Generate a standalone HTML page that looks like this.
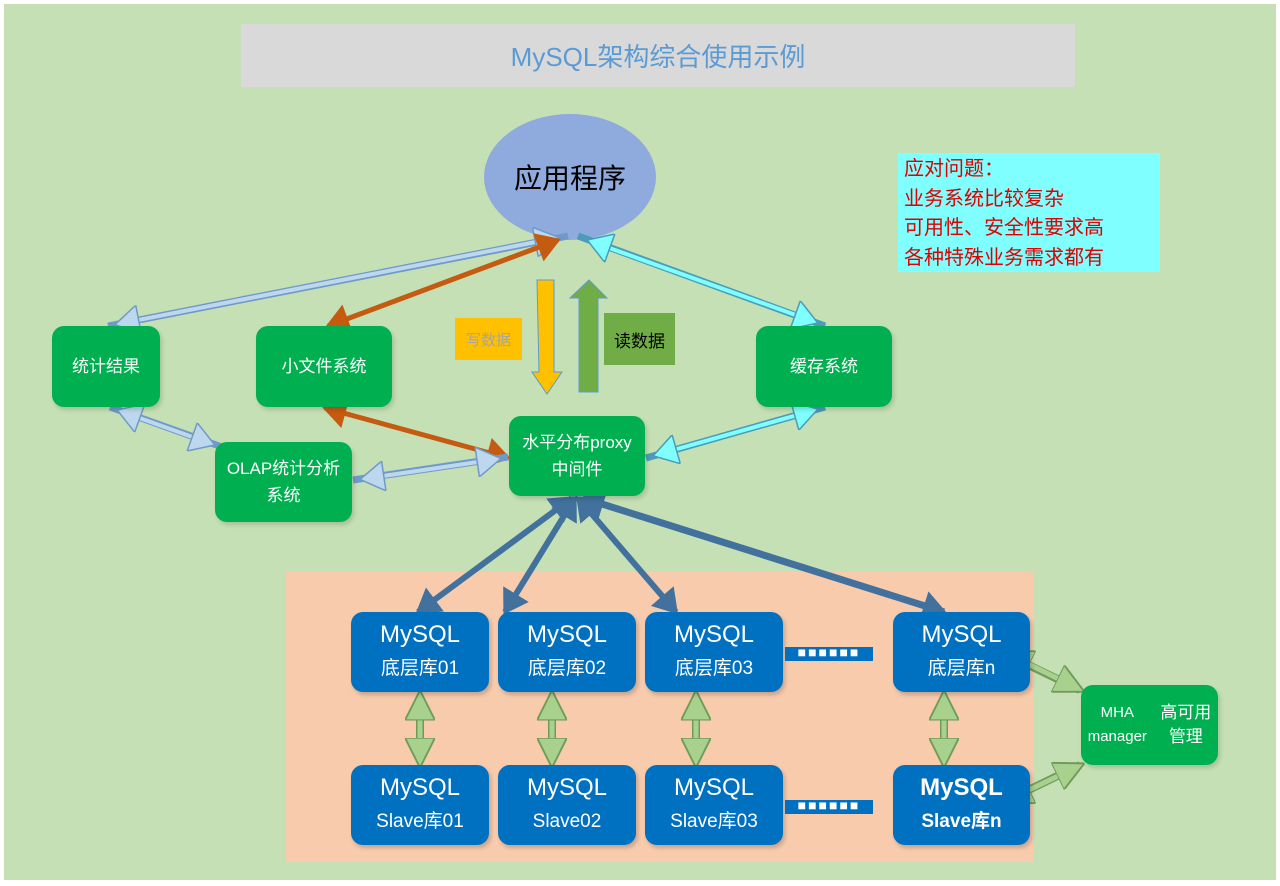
<!DOCTYPE html>
<html><head><meta charset="utf-8"><style>
body{margin:0;width:1280px;height:886px;background:#fff;position:relative;overflow:hidden;font-family:"Liberation Sans","Noto Sans CJK SC",sans-serif}
.a{position:absolute;box-sizing:border-box}
.g{background:#00b050;color:#fff;border-radius:12px;display:flex;align-items:center;justify-content:center;text-align:center;font-size:17px;line-height:27px;box-shadow:2px 3px 4px rgba(0,0,0,.15)}
.b{background:#0070c0;color:#fff;border-radius:12px;display:flex;flex-direction:column;align-items:center;justify-content:center;text-align:center;font-size:19px;line-height:34px;box-shadow:2px 3px 4px rgba(0,0,0,.2)}
.b .t{font-size:24px}
</style></head><body>
<div class="a" style="left:4px;top:4px;width:1272px;height:876px;background:#c5e0b4"></div>
<div class="a" style="left:241px;top:24px;width:834px;height:63px;background:#d9d9d9;color:#5b9bd5;font-size:26px;display:flex;align-items:center;justify-content:center">MySQL架构综合使用示例</div>
<div class="a" style="left:484px;top:114px;width:172px;height:126px;border-radius:50%;background:#8faadc;display:flex;align-items:center;justify-content:center;font-size:28px;color:#000">应用程序</div>
<div class="a" style="left:898px;top:153px;width:262px;height:119px;background:#7fffff;color:#e00000;font-size:20px;line-height:29.5px;padding:2px 0 0 6px">应对问题：<br>业务系统比较复杂<br>可用性、安全性要求高<br>各种特殊业务需求都有</div>
<div class="a" style="left:286px;top:572px;width:748px;height:290px;background:#f8cbad"></div>
<div class="a" style="left:455px;top:318px;width:67px;height:42px;background:#ffc000;color:#a5a5a5;font-size:15px;display:flex;align-items:center;justify-content:center">写数据</div>
<div class="a" style="left:604px;top:313px;width:71px;height:52px;background:#70ad47;color:#000;font-size:17px;display:flex;align-items:center;justify-content:center">读数据</div>
<svg class="a" style="left:0;top:0" width="1280" height="886">
<defs>
<marker id="m1" markerUnits="userSpaceOnUse" markerWidth="30" markerHeight="30" refX="14" refY="10" viewBox="0 0 16 20" orient="auto-start-reverse"><path d="M0,0 L16,10 L0,20 Z" fill="#bdd7ee" stroke="#6f9ac8"/></marker>
<marker id="m2" markerUnits="userSpaceOnUse" markerWidth="30" markerHeight="30" refX="14" refY="10" viewBox="0 0 16 20" orient="auto-start-reverse"><path d="M0,0 L16,10 L0,20 Z" fill="#c55a11"/></marker>
<marker id="m3" markerUnits="userSpaceOnUse" markerWidth="30" markerHeight="30" refX="14" refY="10" viewBox="0 0 16 20" orient="auto-start-reverse"><path d="M0,0 L16,10 L0,20 Z" fill="#7fffff" stroke="#4a9cb8"/></marker>
<marker id="m4" markerUnits="userSpaceOnUse" markerWidth="30" markerHeight="30" refX="14" refY="10" viewBox="0 0 16 20" orient="auto-start-reverse"><path d="M0,0 L16,10 L0,20 Z" fill="#41719c"/></marker>
<marker id="m5" markerUnits="userSpaceOnUse" markerWidth="30" markerHeight="30" refX="14" refY="8" viewBox="0 0 16 16" orient="auto-start-reverse"><path d="M0,0 L16,8 L0,16 Z" fill="#a9d18e" stroke="#6f9a5a"/></marker>
</defs>
<g stroke-width="6" fill="none">
<line x1="568" y1="236" x2="108" y2="326" stroke="#6f9ac8" stroke-width="7"/><line x1="556" y1="238" x2="118" y2="324" stroke="#bdd7ee" stroke-width="4" marker-start="url(#m1)" marker-end="url(#m1)"/>
<line x1="558" y1="240" x2="328" y2="326" stroke="#c55a11" stroke-width="5" marker-start="url(#m2)" marker-end="url(#m2)"/>
<line x1="578" y1="236" x2="825" y2="326" stroke="#4a9cb8" stroke-width="7"/><line x1="590" y1="241" x2="815" y2="322" stroke="#7fffff" stroke-width="4" marker-start="url(#m3)" marker-end="url(#m3)"/>
<line x1="110" y1="407" x2="222" y2="447" stroke="#6f9ac8" stroke-width="7"/><line x1="120" y1="411" x2="212" y2="444" stroke="#bdd7ee" stroke-width="4" marker-start="url(#m1)" marker-end="url(#m1)"/>
<line x1="325" y1="408" x2="508" y2="458" stroke="#c55a11" stroke-width="5" marker-start="url(#m2)" marker-end="url(#m2)"/>
<line x1="353" y1="480" x2="508" y2="457" stroke="#6f9ac8" stroke-width="7"/><line x1="363" y1="479" x2="498" y2="459" stroke="#bdd7ee" stroke-width="4" marker-start="url(#m1)" marker-end="url(#m1)"/>
<line x1="825" y1="407" x2="646" y2="458" stroke="#4a9cb8" stroke-width="7"/><line x1="815" y1="410" x2="656" y2="455" stroke="#7fffff" stroke-width="4" marker-start="url(#m3)" marker-end="url(#m3)"/>
<line x1="572" y1="498" x2="418" y2="612" stroke="#41719c" marker-start="url(#m4)" marker-end="url(#m4)"/>
<line x1="575" y1="498" x2="505" y2="612" stroke="#41719c" marker-start="url(#m4)" marker-end="url(#m4)"/>
<line x1="578" y1="498" x2="676" y2="612" stroke="#41719c" marker-start="url(#m4)" marker-end="url(#m4)"/>
<line x1="583" y1="498" x2="944" y2="612" stroke="#41719c" stroke-width="7" marker-start="url(#m4)" marker-end="url(#m4)"/>
<g stroke="#6f9a5a" stroke-width="8"><line x1="420" y1="696" x2="420" y2="762"/><line x1="552" y1="696" x2="552" y2="762"/><line x1="696" y1="696" x2="696" y2="762"/><line x1="944" y1="696" x2="944" y2="762"/><line x1="1008" y1="655" x2="1080" y2="690"/><line x1="1008" y1="800" x2="1080" y2="765"/></g>
<g stroke="#a9d18e" stroke-width="5"><line x1="420" y1="694" x2="420" y2="764" marker-start="url(#m5)" marker-end="url(#m5)"/><line x1="552" y1="694" x2="552" y2="764" marker-start="url(#m5)" marker-end="url(#m5)"/><line x1="696" y1="694" x2="696" y2="764" marker-start="url(#m5)" marker-end="url(#m5)"/><line x1="944" y1="694" x2="944" y2="764" marker-start="url(#m5)" marker-end="url(#m5)"/><line x1="1006" y1="653" x2="1081" y2="690" marker-start="url(#m5)" marker-end="url(#m5)"/><line x1="1006" y1="801" x2="1081" y2="765" marker-start="url(#m5)" marker-end="url(#m5)"/></g>
</g>
<path d="M537,280 L554,280 L554,372 L562,372 L547,394 L532,372 L539,372 Z" fill="#ffc000" stroke="#5b9bd5" stroke-width="1"/>
<path d="M579,392 L579,298 L570,298 L589,280 L607,298 L598,298 L598,392 Z" fill="#70ad47" stroke="#5b9bd5" stroke-width="1"/>
</svg>
<div class="a g" style="left:52px;top:326px;width:108px;height:81px">统计结果</div>
<div class="a g" style="left:256px;top:326px;width:136px;height:81px">小文件系统</div>
<div class="a g" style="left:756px;top:326px;width:136px;height:81px">缓存系统</div>
<div class="a g" style="left:215px;top:442px;width:137px;height:80px">OLAP统计分析<br>系统</div>
<div class="a g" style="left:509px;top:416px;width:136px;height:80px">水平分布proxy<br>中间件</div>
<div class="a g" style="left:1081px;top:685px;width:137px;height:80px;font-size:15px;line-height:24px">MHA manager<br><span style="font-size:17px">高可用管理</span></div>
<div class="a b" style="left:351px;top:612px;width:138px;height:80px"><span class="t">MySQL</span><span>底层库01</span></div>
<div class="a b" style="left:498px;top:612px;width:138px;height:80px"><span class="t">MySQL</span><span>底层库02</span></div>
<div class="a b" style="left:645px;top:612px;width:138px;height:80px"><span class="t">MySQL</span><span>底层库03</span></div>
<div class="a b" style="left:893px;top:612px;width:137px;height:80px"><span class="t">MySQL</span><span>底层库n</span></div>
<div class="a b" style="left:351px;top:765px;width:138px;height:80px"><span class="t">MySQL</span><span>Slave库01</span></div>
<div class="a b" style="left:498px;top:765px;width:138px;height:80px"><span class="t">MySQL</span><span>Slave02</span></div>
<div class="a b" style="left:645px;top:765px;width:138px;height:80px"><span class="t">MySQL</span><span>Slave库03</span></div>
<div class="a b" style="left:893px;top:765px;width:137px;height:80px;font-weight:bold"><span class="t">MySQL</span><span>Slave库n</span></div>
<div class="a" style="left:785px;top:647px;width:88px;height:14px;background:#0070c0;color:#fff;font-size:14px;line-height:10px;text-align:center;letter-spacing:2px;font-weight:bold">■■■■■■</div>
<div class="a" style="left:785px;top:800px;width:88px;height:14px;background:#0070c0;color:#fff;font-size:14px;line-height:10px;text-align:center;letter-spacing:2px;font-weight:bold">■■■■■■</div>
</body></html>
